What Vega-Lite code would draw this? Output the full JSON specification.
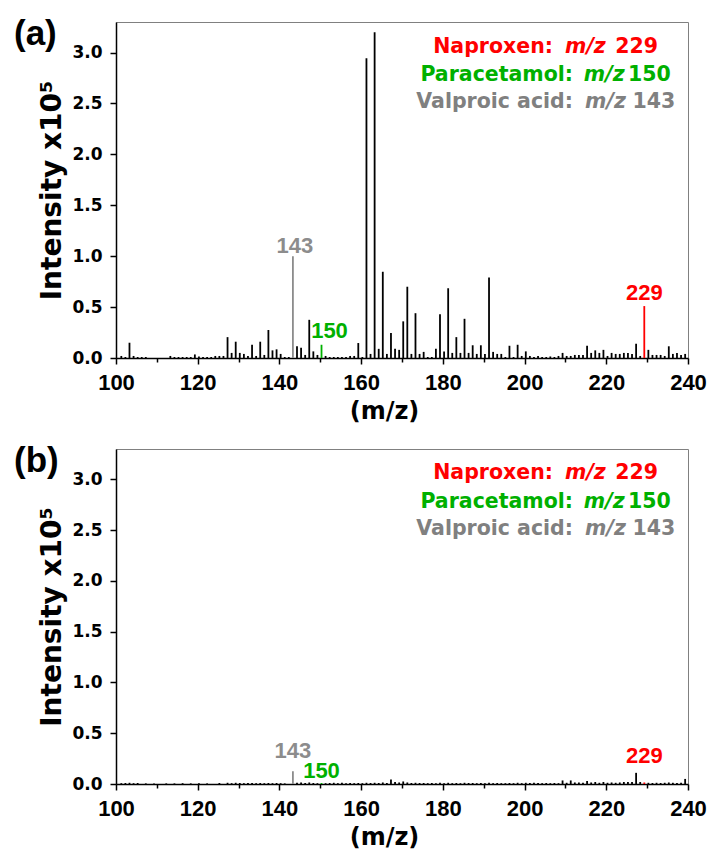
{
  "$schema": "https://vega.github.io/schema/vega-lite/v6.json",
  "padding": {"left": 13, "top": 16, "right": 5, "bottom": 5},
  "background": "white",
  "spacing": 19,
  "config": {
    "view": {"stroke": "#808080", "strokeWidth": 1},
    "axis": {"domainColor": "black", "domainWidth": 1.5, "tickColor": "black", "tickWidth": 1.5, "labelColor": "black", "titleColor": "black", "grid": false, "labelFontWeight": "bold", "titleFontWeight": "bold", "labelFlush": false},
    "text": {"font": "DejaVu Sans", "fontWeight": "bold"}
  },
  "datasets": {
    "a": [
      {"mz":101.3,"i":0.02,"kind":"other"},{"mz":102.3,"i":0.01,"kind":"other"},{"mz":103.3,"i":0.15,"kind":"other"},{"mz":104.3,"i":0.02,"kind":"other"},{"mz":105.3,"i":0.01,"kind":"other"},{"mz":106.3,"i":0.01,"kind":"other"},{"mz":107.3,"i":0.01,"kind":"other"},
      {"mz":113.3,"i":0.02,"kind":"other"},{"mz":114.3,"i":0.01,"kind":"other"},{"mz":115.3,"i":0.01,"kind":"other"},{"mz":116.3,"i":0.01,"kind":"other"},{"mz":117.3,"i":0.01,"kind":"other"},{"mz":118.3,"i":0.01,"kind":"other"},{"mz":119.3,"i":0.035,"kind":"other"},{"mz":120.3,"i":0.015,"kind":"other"},
      {"mz":121.3,"i":0.01,"kind":"other"},{"mz":122.3,"i":0.01,"kind":"other"},{"mz":123.3,"i":0.01,"kind":"other"},{"mz":124.3,"i":0.02,"kind":"other"},{"mz":125.3,"i":0.02,"kind":"other"},{"mz":126.3,"i":0.02,"kind":"other"},{"mz":127.3,"i":0.205,"kind":"other"},{"mz":128.3,"i":0.05,"kind":"other"},{"mz":129.3,"i":0.16,"kind":"other"},{"mz":130.3,"i":0.05,"kind":"other"},
      {"mz":131.3,"i":0.04,"kind":"other"},{"mz":132.3,"i":0.02,"kind":"other"},{"mz":133.3,"i":0.13,"kind":"other"},{"mz":134.3,"i":0.02,"kind":"other"},{"mz":135.3,"i":0.16,"kind":"other"},{"mz":136.3,"i":0.03,"kind":"other"},{"mz":137.3,"i":0.275,"kind":"other"},{"mz":138.3,"i":0.075,"kind":"other"},{"mz":139.3,"i":0.085,"kind":"other"},{"mz":140.3,"i":0.04,"kind":"other"},
      {"mz":141.3,"i":0.01,"kind":"other"},{"mz":142.3,"i":0.01,"kind":"other"},{"mz":143.3,"i":1.0,"kind":"valproic"},{"mz":144.3,"i":0.115,"kind":"other"},{"mz":145.3,"i":0.1,"kind":"other"},{"mz":146.3,"i":0.03,"kind":"other"},{"mz":147.3,"i":0.375,"kind":"other"},{"mz":148.3,"i":0.065,"kind":"other"},{"mz":149.3,"i":0.03,"kind":"other"},{"mz":150.3,"i":0.13,"kind":"paracetamol"},
      {"mz":151.3,"i":0.02,"kind":"other"},{"mz":152.3,"i":0.01,"kind":"other"},{"mz":153.3,"i":0.01,"kind":"other"},{"mz":154.3,"i":0.01,"kind":"other"},{"mz":155.3,"i":0.01,"kind":"other"},{"mz":156.3,"i":0.01,"kind":"other"},{"mz":157.3,"i":0.02,"kind":"other"},{"mz":158.3,"i":0.02,"kind":"other"},{"mz":159.3,"i":0.147,"kind":"other"},{"mz":160.3,"i":0.01,"kind":"other"},
      {"mz":161.3,"i":2.945,"kind":"other"},{"mz":162.3,"i":0.04,"kind":"other"},{"mz":163.3,"i":3.2,"kind":"other"},{"mz":164.3,"i":0.09,"kind":"other"},{"mz":165.3,"i":0.847,"kind":"other"},{"mz":166.3,"i":0.04,"kind":"other"},{"mz":167.3,"i":0.245,"kind":"other"},{"mz":168.3,"i":0.09,"kind":"other"},{"mz":169.3,"i":0.08,"kind":"other"},{"mz":170.3,"i":0.36,"kind":"other"},
      {"mz":171.3,"i":0.7,"kind":"other"},{"mz":172.3,"i":0.04,"kind":"other"},{"mz":173.3,"i":0.44,"kind":"other"},{"mz":174.3,"i":0.04,"kind":"other"},{"mz":175.3,"i":0.06,"kind":"other"},{"mz":176.3,"i":0.01,"kind":"other"},{"mz":177.3,"i":0.01,"kind":"other"},{"mz":178.3,"i":0.09,"kind":"other"},{"mz":179.3,"i":0.43,"kind":"other"},{"mz":180.3,"i":0.065,"kind":"other"},
      {"mz":181.3,"i":0.685,"kind":"other"},{"mz":182.3,"i":0.05,"kind":"other"},{"mz":183.3,"i":0.205,"kind":"other"},{"mz":184.3,"i":0.05,"kind":"other"},{"mz":185.3,"i":0.385,"kind":"other"},{"mz":186.3,"i":0.05,"kind":"other"},{"mz":187.3,"i":0.125,"kind":"other"},{"mz":188.3,"i":0.04,"kind":"other"},{"mz":189.3,"i":0.125,"kind":"other"},{"mz":190.3,"i":0.04,"kind":"other"},
      {"mz":191.3,"i":0.79,"kind":"other"},{"mz":192.3,"i":0.06,"kind":"other"},{"mz":193.3,"i":0.04,"kind":"other"},{"mz":194.3,"i":0.04,"kind":"other"},{"mz":195.3,"i":0.01,"kind":"other"},{"mz":196.3,"i":0.12,"kind":"other"},{"mz":197.3,"i":0.01,"kind":"other"},{"mz":198.3,"i":0.13,"kind":"other"},{"mz":199.3,"i":0.02,"kind":"other"},{"mz":200.3,"i":0.065,"kind":"other"},
      {"mz":201.3,"i":0.02,"kind":"other"},{"mz":202.3,"i":0.01,"kind":"other"},{"mz":203.3,"i":0.02,"kind":"other"},{"mz":204.3,"i":0.01,"kind":"other"},{"mz":205.3,"i":0.01,"kind":"other"},{"mz":206.3,"i":0.015,"kind":"other"},{"mz":207.3,"i":0.01,"kind":"other"},{"mz":208.3,"i":0.02,"kind":"other"},{"mz":209.3,"i":0.05,"kind":"other"},{"mz":210.3,"i":0.02,"kind":"other"},
      {"mz":211.3,"i":0.02,"kind":"other"},{"mz":212.3,"i":0.03,"kind":"other"},{"mz":213.3,"i":0.03,"kind":"other"},{"mz":214.3,"i":0.03,"kind":"other"},{"mz":215.3,"i":0.12,"kind":"other"},{"mz":216.3,"i":0.05,"kind":"other"},{"mz":217.3,"i":0.075,"kind":"other"},{"mz":218.3,"i":0.05,"kind":"other"},{"mz":219.3,"i":0.08,"kind":"other"},{"mz":220.3,"i":0.02,"kind":"other"},
      {"mz":221.3,"i":0.05,"kind":"other"},{"mz":222.3,"i":0.04,"kind":"other"},{"mz":223.3,"i":0.04,"kind":"other"},{"mz":224.3,"i":0.05,"kind":"other"},{"mz":225.3,"i":0.05,"kind":"other"},{"mz":226.3,"i":0.04,"kind":"other"},{"mz":227.3,"i":0.14,"kind":"other"},{"mz":228.3,"i":0.02,"kind":"other"},{"mz":229.3,"i":0.51,"kind":"naproxen"},{"mz":230.3,"i":0.08,"kind":"other"},
      {"mz":231.3,"i":0.03,"kind":"other"},{"mz":232.3,"i":0.03,"kind":"other"},{"mz":233.3,"i":0.03,"kind":"other"},{"mz":234.3,"i":0.02,"kind":"other"},{"mz":235.3,"i":0.115,"kind":"other"},{"mz":236.3,"i":0.04,"kind":"other"},{"mz":237.3,"i":0.05,"kind":"other"},{"mz":238.3,"i":0.03,"kind":"other"},{"mz":239.3,"i":0.04,"kind":"other"}
    ],
    "b": [
      {"mz":101.3,"i":0.008,"kind":"other"},{"mz":102.3,"i":0.01,"kind":"other"},{"mz":103.3,"i":0.012,"kind":"other"},{"mz":104.3,"i":0.008,"kind":"other"},{"mz":105.3,"i":0.01,"kind":"other"},{"mz":107.3,"i":0.006,"kind":"other"},{"mz":109.3,"i":0.006,"kind":"other"},{"mz":112.3,"i":0.006,"kind":"other"},{"mz":114.3,"i":0.006,"kind":"other"},{"mz":116.3,"i":0.008,"kind":"other"},
      {"mz":118.3,"i":0.006,"kind":"other"},{"mz":120.3,"i":0.008,"kind":"other"},{"mz":122.3,"i":0.006,"kind":"other"},{"mz":125.3,"i":0.01,"kind":"other"},{"mz":127.3,"i":0.012,"kind":"other"},{"mz":128.3,"i":0.008,"kind":"other"},{"mz":129.3,"i":0.012,"kind":"other"},{"mz":130.3,"i":0.01,"kind":"other"},{"mz":131.3,"i":0.008,"kind":"other"},{"mz":132.3,"i":0.01,"kind":"other"},
      {"mz":133.3,"i":0.01,"kind":"other"},{"mz":134.3,"i":0.008,"kind":"other"},{"mz":135.3,"i":0.01,"kind":"other"},{"mz":136.3,"i":0.008,"kind":"other"},{"mz":137.3,"i":0.01,"kind":"other"},{"mz":138.3,"i":0.008,"kind":"other"},{"mz":139.3,"i":0.01,"kind":"other"},{"mz":140.3,"i":0.008,"kind":"other"},{"mz":141.3,"i":0.006,"kind":"other"},{"mz":143.3,"i":0.125,"kind":"valproic"},
      {"mz":144.3,"i":0.012,"kind":"other"},{"mz":145.3,"i":0.015,"kind":"other"},{"mz":146.3,"i":0.01,"kind":"other"},{"mz":147.3,"i":0.015,"kind":"other"},{"mz":148.3,"i":0.01,"kind":"other"},{"mz":149.3,"i":0.008,"kind":"other"},{"mz":150.3,"i":0.01,"kind":"paracetamol"},{"mz":151.3,"i":0.008,"kind":"other"},{"mz":152.3,"i":0.01,"kind":"other"},{"mz":153.3,"i":0.012,"kind":"other"},
      {"mz":154.3,"i":0.008,"kind":"other"},{"mz":155.3,"i":0.012,"kind":"other"},{"mz":156.3,"i":0.008,"kind":"other"},{"mz":157.3,"i":0.01,"kind":"other"},{"mz":158.3,"i":0.008,"kind":"other"},{"mz":159.3,"i":0.01,"kind":"other"},{"mz":160.3,"i":0.008,"kind":"other"},{"mz":161.3,"i":0.012,"kind":"other"},{"mz":162.3,"i":0.01,"kind":"other"},{"mz":163.3,"i":0.012,"kind":"other"},
      {"mz":164.3,"i":0.01,"kind":"other"},{"mz":165.3,"i":0.015,"kind":"other"},{"mz":166.3,"i":0.01,"kind":"other"},{"mz":167.3,"i":0.045,"kind":"other"},{"mz":168.3,"i":0.02,"kind":"other"},{"mz":169.3,"i":0.015,"kind":"other"},{"mz":170.3,"i":0.025,"kind":"other"},{"mz":171.3,"i":0.015,"kind":"other"},{"mz":172.3,"i":0.01,"kind":"other"},{"mz":173.3,"i":0.012,"kind":"other"},
      {"mz":174.3,"i":0.01,"kind":"other"},{"mz":175.3,"i":0.01,"kind":"other"},{"mz":176.3,"i":0.008,"kind":"other"},{"mz":177.3,"i":0.01,"kind":"other"},{"mz":178.3,"i":0.008,"kind":"other"},{"mz":179.3,"i":0.012,"kind":"other"},{"mz":180.3,"i":0.008,"kind":"other"},{"mz":181.3,"i":0.012,"kind":"other"},{"mz":182.3,"i":0.008,"kind":"other"},{"mz":183.3,"i":0.01,"kind":"other"},
      {"mz":184.3,"i":0.008,"kind":"other"},{"mz":185.3,"i":0.012,"kind":"other"},{"mz":186.3,"i":0.01,"kind":"other"},{"mz":187.3,"i":0.01,"kind":"other"},{"mz":188.3,"i":0.008,"kind":"other"},{"mz":189.3,"i":0.01,"kind":"other"},{"mz":190.3,"i":0.008,"kind":"other"},{"mz":191.3,"i":0.012,"kind":"other"},{"mz":192.3,"i":0.008,"kind":"other"},{"mz":193.3,"i":0.01,"kind":"other"},
      {"mz":194.3,"i":0.008,"kind":"other"},{"mz":195.3,"i":0.008,"kind":"other"},{"mz":196.3,"i":0.01,"kind":"other"},{"mz":197.3,"i":0.008,"kind":"other"},{"mz":198.3,"i":0.012,"kind":"other"},{"mz":199.3,"i":0.008,"kind":"other"},{"mz":200.3,"i":0.012,"kind":"other"},{"mz":201.3,"i":0.01,"kind":"other"},{"mz":202.3,"i":0.012,"kind":"other"},{"mz":203.3,"i":0.01,"kind":"other"},
      {"mz":204.3,"i":0.008,"kind":"other"},{"mz":205.3,"i":0.01,"kind":"other"},{"mz":206.3,"i":0.008,"kind":"other"},{"mz":207.3,"i":0.01,"kind":"other"},{"mz":208.3,"i":0.008,"kind":"other"},{"mz":209.3,"i":0.035,"kind":"other"},{"mz":210.3,"i":0.012,"kind":"other"},{"mz":211.3,"i":0.035,"kind":"other"},{"mz":212.3,"i":0.015,"kind":"other"},{"mz":213.3,"i":0.015,"kind":"other"},
      {"mz":214.3,"i":0.012,"kind":"other"},{"mz":215.3,"i":0.03,"kind":"other"},{"mz":216.3,"i":0.015,"kind":"other"},{"mz":217.3,"i":0.02,"kind":"other"},{"mz":218.3,"i":0.012,"kind":"other"},{"mz":219.3,"i":0.02,"kind":"other"},{"mz":220.3,"i":0.012,"kind":"other"},{"mz":221.3,"i":0.015,"kind":"other"},{"mz":222.3,"i":0.012,"kind":"other"},{"mz":223.3,"i":0.015,"kind":"other"},
      {"mz":224.3,"i":0.02,"kind":"other"},{"mz":225.3,"i":0.02,"kind":"other"},{"mz":226.3,"i":0.02,"kind":"other"},{"mz":227.3,"i":0.11,"kind":"other"},{"mz":228.3,"i":0.02,"kind":"other"},{"mz":229.3,"i":0.015,"kind":"naproxen"},{"mz":230.3,"i":0.012,"kind":"other"},{"mz":231.3,"i":0.01,"kind":"other"},{"mz":232.3,"i":0.012,"kind":"other"},{"mz":233.3,"i":0.01,"kind":"other"},
      {"mz":234.3,"i":0.012,"kind":"other"},{"mz":235.3,"i":0.015,"kind":"other"},{"mz":236.3,"i":0.012,"kind":"other"},{"mz":237.3,"i":0.01,"kind":"other"},{"mz":238.3,"i":0.012,"kind":"other"},{"mz":239.3,"i":0.05,"kind":"other"}
    ]
  },
  "vconcat": [
    {
      "width": 572, "height": 336,
      "title": {"text": "(a)", "anchor": "start", "frame": "group", "orient": "top", "baseline": "top", "offset": -30, "dx": -102, "font": "Liberation Sans", "fontSize": 35, "fontWeight": "bold", "color": "black"},
      "data": {"name": "a"},
      "layer": [
        {
          "mark": {"type": "rule", "strokeWidth": 1.8},
          "encoding": {
            "x": {"field": "mz", "type": "quantitative", "scale": {"domain": [100, 240], "nice": false},
              "axis": {"values": [100,110,120,130,140,150,160,170,180,190,200,210,220,230,240], "labelExpr": "datum.value % 20 === 0 ? datum.label : ''", "tickSize": {"condition": {"test": "datum.value % 20 === 0", "value": 6}, "value": 4}, "labelFont": "Liberation Sans", "labelFontSize": 22, "labelPadding": 8, "labelOverlap": false, "title": "(m/z)", "titleFont": "DejaVu Sans", "titleFontSize": 24, "titlePadding": 6, "titleX": 268}},
            "y": {"field": "i", "type": "quantitative", "scale": {"domain": [0, 3.3], "nice": false},
              "axis": {"values": [0,0.25,0.5,0.75,1,1.25,1.5,1.75,2,2.25,2.5,2.75,3,3.25], "labelExpr": "datum.value * 4 % 2 === 0 ? format(datum.value, '.1f') : ''", "tickSize": {"condition": {"test": "datum.value * 4 % 2 === 0", "value": 6}, "value": 4}, "labelFont": "DejaVu Sans", "labelFontSize": 17, "labelPadding": 8, "labelOverlap": false, "title": "Intensity x10⁵", "titleFont": "DejaVu Sans", "titleFontSize": 28, "titlePadding": 5}},
            "y2": {"datum": 0},
            "color": {"field": "kind", "type": "nominal", "legend": null, "scale": {"domain": ["other","valproic","paracetamol","naproxen"], "range": ["#000000","#8c8c8c","#00b000","#ff0000"]}}
          }
        },
        {"transform": [{"filter": "datum.kind === 'valproic'"}], "mark": {"type": "text", "font": "Liberation Sans", "fontSize": 22, "color": "#8c8c8c", "baseline": "alphabetic", "dx": 2, "dy": -3}, "encoding": {"x": {"field": "mz", "type": "quantitative"}, "y": {"field": "i", "type": "quantitative"}, "text": {"value": "143"}}},
        {"transform": [{"filter": "datum.kind === 'paracetamol'"}], "mark": {"type": "text", "font": "Liberation Sans", "fontSize": 22, "color": "#00b000", "baseline": "alphabetic", "dx": 8, "dy": -7}, "encoding": {"x": {"field": "mz", "type": "quantitative"}, "y": {"field": "i", "type": "quantitative"}, "text": {"value": "150"}}},
        {"transform": [{"filter": "datum.kind === 'naproxen'"}], "mark": {"type": "text", "font": "Liberation Sans", "fontSize": 22, "color": "#ff0000", "baseline": "alphabetic", "dx": 0, "dy": -6}, "encoding": {"x": {"field": "mz", "type": "quantitative"}, "y": {"field": "i", "type": "quantitative"}, "text": {"value": "229"}}},
        {"data": {"values": [{}]}, "mark": {"type": "text", "fontSize": 20.5, "color": "#ff0000", "align": "right", "baseline": "alphabetic"}, "encoding": {"x": {"datum": 206.95}, "y": {"datum": 3.0}, "text": {"value": "Naproxen:"}}},
        {"data": {"values": [{}]}, "mark": {"type": "text", "fontSize": 20.5, "color": "#ff0000", "align": "left", "baseline": "alphabetic", "fontStyle": "italic"}, "encoding": {"x": {"datum": 209.9}, "y": {"datum": 3.0}, "text": {"value": "m/z"}}},
        {"data": {"values": [{}]}, "mark": {"type": "text", "fontSize": 20.5, "color": "#ff0000", "align": "right", "baseline": "alphabetic"}, "encoding": {"x": {"datum": 232.65}, "y": {"datum": 3.0}, "text": {"value": "229"}}},
        {"data": {"values": [{}]}, "mark": {"type": "text", "fontSize": 20.5, "color": "#00b000", "align": "right", "baseline": "alphabetic"}, "encoding": {"x": {"datum": 211.85}, "y": {"datum": 2.723}, "text": {"value": "Paracetamol:"}}},
        {"data": {"values": [{}]}, "mark": {"type": "text", "fontSize": 20.5, "color": "#00b000", "align": "left", "baseline": "alphabetic", "fontStyle": "italic"}, "encoding": {"x": {"datum": 214.5}, "y": {"datum": 2.723}, "text": {"value": "m/z"}}},
        {"data": {"values": [{}]}, "mark": {"type": "text", "fontSize": 20.5, "color": "#00b000", "align": "right", "baseline": "alphabetic"}, "encoding": {"x": {"datum": 235.8}, "y": {"datum": 2.723}, "text": {"value": "150"}}},
        {"data": {"values": [{}]}, "mark": {"type": "text", "fontSize": 20.5, "color": "#808080", "align": "right", "baseline": "alphabetic"}, "encoding": {"x": {"datum": 211.85}, "y": {"datum": 2.452}, "text": {"value": "Valproic acid:"}}},
        {"data": {"values": [{}]}, "mark": {"type": "text", "fontSize": 20.5, "color": "#808080", "align": "left", "baseline": "alphabetic", "fontStyle": "italic"}, "encoding": {"x": {"datum": 214.8}, "y": {"datum": 2.452}, "text": {"value": "m/z"}}},
        {"data": {"values": [{}]}, "mark": {"type": "text", "fontSize": 20.5, "color": "#808080", "align": "right", "baseline": "alphabetic"}, "encoding": {"x": {"datum": 236.9}, "y": {"datum": 2.452}, "text": {"value": "143"}}}
      ]
    },
    {
      "width": 572, "height": 335,
      "title": {"text": "(b)", "anchor": "start", "frame": "group", "orient": "top", "baseline": "top", "offset": -30, "dx": -102, "font": "Liberation Sans", "fontSize": 35, "fontWeight": "bold", "color": "black"},
      "data": {"name": "b"},
      "layer": [
        {
          "mark": {"type": "rule", "strokeWidth": 1.8},
          "encoding": {
            "x": {"field": "mz", "type": "quantitative", "scale": {"domain": [100, 240], "nice": false},
              "axis": {"values": [100,110,120,130,140,150,160,170,180,190,200,210,220,230,240], "labelExpr": "datum.value % 20 === 0 ? datum.label : ''", "tickSize": {"condition": {"test": "datum.value % 20 === 0", "value": 6}, "value": 4}, "labelFont": "Liberation Sans", "labelFontSize": 22, "labelPadding": 8, "labelOverlap": false, "title": "(m/z)", "titleFont": "DejaVu Sans", "titleFontSize": 24, "titlePadding": 6, "titleX": 268}},
            "y": {"field": "i", "type": "quantitative", "scale": {"domain": [0, 3.3], "nice": false},
              "axis": {"values": [0,0.25,0.5,0.75,1,1.25,1.5,1.75,2,2.25,2.5,2.75,3,3.25], "labelExpr": "datum.value * 4 % 2 === 0 ? format(datum.value, '.1f') : ''", "tickSize": {"condition": {"test": "datum.value * 4 % 2 === 0", "value": 6}, "value": 4}, "labelFont": "DejaVu Sans", "labelFontSize": 17, "labelPadding": 8, "labelOverlap": false, "title": "Intensity x10⁵", "titleFont": "DejaVu Sans", "titleFontSize": 28, "titlePadding": 5}},
            "y2": {"datum": 0},
            "color": {"field": "kind", "type": "nominal", "legend": null, "scale": {"domain": ["other","valproic","paracetamol","naproxen"], "range": ["#000000","#8c8c8c","#00b000","#ff0000"]}}
          }
        },
        {"transform": [{"filter": "datum.kind === 'valproic'"}], "mark": {"type": "text", "font": "Liberation Sans", "fontSize": 22, "color": "#8c8c8c", "baseline": "alphabetic", "dx": 0, "dy": -13}, "encoding": {"x": {"field": "mz", "type": "quantitative"}, "y": {"field": "i", "type": "quantitative"}, "text": {"value": "143"}}},
        {"transform": [{"filter": "datum.kind === 'paracetamol'"}], "mark": {"type": "text", "font": "Liberation Sans", "fontSize": 22, "color": "#00b000", "baseline": "alphabetic", "dx": 0, "dy": -5}, "encoding": {"x": {"field": "mz", "type": "quantitative"}, "y": {"field": "i", "type": "quantitative"}, "text": {"value": "150"}}},
        {"transform": [{"filter": "datum.kind === 'naproxen'"}], "mark": {"type": "text", "font": "Liberation Sans", "fontSize": 22, "color": "#ff0000", "baseline": "alphabetic", "dx": 0, "dy": -19}, "encoding": {"x": {"field": "mz", "type": "quantitative"}, "y": {"field": "i", "type": "quantitative"}, "text": {"value": "229"}}},
        {"data": {"values": [{}]}, "mark": {"type": "text", "fontSize": 20.5, "color": "#ff0000", "align": "right", "baseline": "alphabetic"}, "encoding": {"x": {"datum": 206.95}, "y": {"datum": 3.0}, "text": {"value": "Naproxen:"}}},
        {"data": {"values": [{}]}, "mark": {"type": "text", "fontSize": 20.5, "color": "#ff0000", "align": "left", "baseline": "alphabetic", "fontStyle": "italic"}, "encoding": {"x": {"datum": 209.9}, "y": {"datum": 3.0}, "text": {"value": "m/z"}}},
        {"data": {"values": [{}]}, "mark": {"type": "text", "fontSize": 20.5, "color": "#ff0000", "align": "right", "baseline": "alphabetic"}, "encoding": {"x": {"datum": 232.65}, "y": {"datum": 3.0}, "text": {"value": "229"}}},
        {"data": {"values": [{}]}, "mark": {"type": "text", "fontSize": 20.5, "color": "#00b000", "align": "right", "baseline": "alphabetic"}, "encoding": {"x": {"datum": 211.85}, "y": {"datum": 2.723}, "text": {"value": "Paracetamol:"}}},
        {"data": {"values": [{}]}, "mark": {"type": "text", "fontSize": 20.5, "color": "#00b000", "align": "left", "baseline": "alphabetic", "fontStyle": "italic"}, "encoding": {"x": {"datum": 214.5}, "y": {"datum": 2.723}, "text": {"value": "m/z"}}},
        {"data": {"values": [{}]}, "mark": {"type": "text", "fontSize": 20.5, "color": "#00b000", "align": "right", "baseline": "alphabetic"}, "encoding": {"x": {"datum": 235.8}, "y": {"datum": 2.723}, "text": {"value": "150"}}},
        {"data": {"values": [{}]}, "mark": {"type": "text", "fontSize": 20.5, "color": "#808080", "align": "right", "baseline": "alphabetic"}, "encoding": {"x": {"datum": 211.85}, "y": {"datum": 2.452}, "text": {"value": "Valproic acid:"}}},
        {"data": {"values": [{}]}, "mark": {"type": "text", "fontSize": 20.5, "color": "#808080", "align": "left", "baseline": "alphabetic", "fontStyle": "italic"}, "encoding": {"x": {"datum": 214.8}, "y": {"datum": 2.452}, "text": {"value": "m/z"}}},
        {"data": {"values": [{}]}, "mark": {"type": "text", "fontSize": 20.5, "color": "#808080", "align": "right", "baseline": "alphabetic"}, "encoding": {"x": {"datum": 236.9}, "y": {"datum": 2.452}, "text": {"value": "143"}}}
      ]
    }
  ]
}
